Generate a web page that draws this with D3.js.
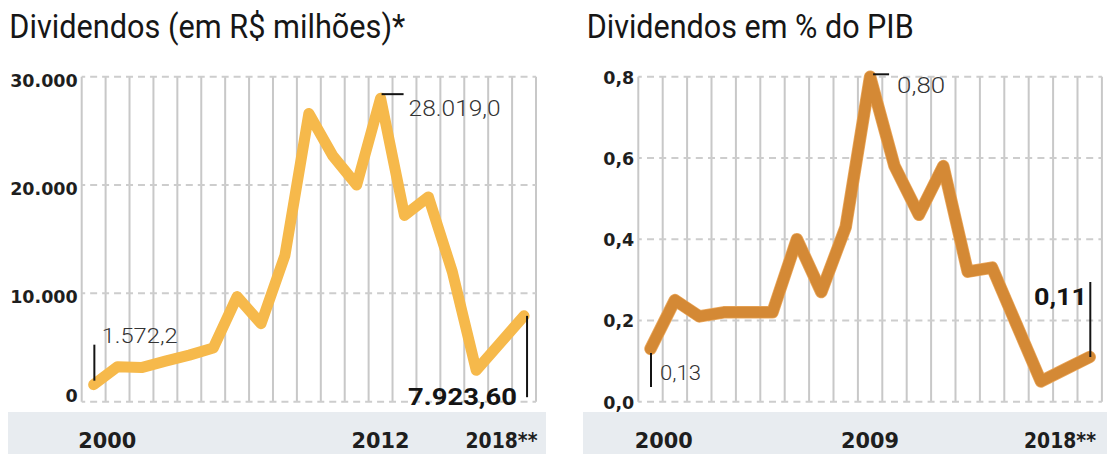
<!DOCTYPE html>
<html><head><meta charset="utf-8">
<script src="https://cdn.jsdelivr.net/npm/d3@7"></script>
<style>body{margin:0;background:#fff} svg{display:block}</style>
</head><body>
<svg id="c" width="1107" height="454"></svg>
<script>
// ---------- data ----------
const years = ["2000","2001","2002","2003","2004","2005","2006","2007","2008","2009",
               "2010","2011","2012","2013","2014","2015","2016","2017","2018"];
const dividendosMilhoes = [1572.2, 3230, 3150, 3750, 4300, 4950, 9700, 7200, 13500, 26600,
                           22700, 20000, 28019.0, 17200, 18900, 12000, 2900, 5400, 7923.6];
const dividendosPib = [0.13, 0.25, 0.21, 0.22, 0.22, 0.22, 0.40, 0.27, 0.43, 0.80,
                       0.58, 0.46, 0.58, 0.32, 0.33, 0.19, 0.05, 0.08, 0.11];
const leftYTicks = [0, 10000, 20000, 30000];
const rightYTicks = [0, 0.2, 0.4, 0.6, 0.8];
const leftXTickYears = ["2000", "2012", "2018"];
const leftXTickLabels = ["2000", "2012", "2018**"];
const rightXTickYears = ["2000", "2009", "2018"];
const rightXTickLabels = ["2000", "2009", "2018**"];
const leftTitle = "Dividendos (em R$ milhões)*";
const rightTitle = "Dividendos em % do PIB";
const leftAnnoYears = ["2000", "2012", "2018"];
const leftAnnoTexts = ["1.572,2", "28.019,0", "7.923,60"];
const rightAnnoYears = ["2000", "2009", "2018"];
const rightAnnoTexts = ["0,13", "0,80", "0,11"];

// ---------- setup ----------
const loc = d3.formatLocale({decimal: ",", thousands: ".", grouping: [3], currency: ["R$", ""]});
const svg = d3.select("#c");
const Y0 = 401.7, Y1 = 76.7;
const tickFont = "'DejaVu Sans', sans-serif";
const lightFont = "Roboto, Lato, sans-serif";

function fitText(sel, w) {
  sel.attr("textLength", w).attr("lengthAdjust", "spacingAndGlyphs");
}

function panel(o) {
  const g = svg.append("g");
  const x = d3.scaleBand().domain(years).range([o.gx0, o.gx1]).padding(0);
  const y = d3.scaleLinear().domain([0, o.ymax]).range([Y0, Y1]);
  const bw = x.bandwidth();
  const cx = yr => x(yr) + bw / 2;

  // bottom band
  g.append("rect").attr("x", o.bandX0).attr("y", 412).attr("width", o.bandX1 - o.bandX0)
    .attr("height", 42).attr("fill", "#e8ecf0");

  // title
  g.append("text").attr("x", o.titleX).attr("y", 38.3).text(o.title)
    .attr("font-family", "Roboto, Lato, sans-serif").attr("font-weight", 400).attr("font-size", 34)
    .attr("fill", "#161616").call(fitText, o.titleW);

  // vertical gridlines at band edges
  const edges = years.map(d => x(d)).concat([o.gx1]);
  g.selectAll(".vg").data(edges).join("line")
    .attr("x1", d => d).attr("x2", d => d).attr("y1", Y1).attr("y2", Y0)
    .attr("stroke", "#c8c8c8").attr("stroke-width", 2);

  // horizontal dashed gridlines
  const period = bw / 2, dash = 7;
  g.selectAll(".hg").data(o.yTicks).join("line")
    .attr("x1", o.gx0).attr("x2", o.gx1).attr("y1", d => y(d)).attr("y2", d => y(d))
    .attr("stroke", "#cdcdcd").attr("stroke-width", 2)
    .attr("stroke-dasharray", `${dash},${period - dash}`)
    .attr("stroke-dashoffset", dash / 2);

  // y tick labels
  g.selectAll(".yl").data(o.yTicks).join("text")
    .attr("x", o.gx0 - 4).attr("y", d => y(d) + o.yLabelOff(d))
    .attr("text-anchor", "end").text(o.yFmt)
    .attr("font-family", tickFont).attr("font-weight", "bold").attr("font-size", 17.5)
    .attr("fill", "#1e1e1e");

  // x tick labels
  g.selectAll(".xl").data(o.xYears).join("text")
    .attr("x", (d, i) => i === 0 ? o.gx0 - 3.5 : (i === o.xYears.length - 1 ? o.xEnd : cx(d)))
    .attr("y", 447.5)
    .attr("text-anchor", (d, i) => i === 0 ? "start" : (i === o.xYears.length - 1 ? "end" : "middle"))
    .text((d, i) => o.xLabels[i])
    .attr("font-family", tickFont).attr("font-weight", "bold").attr("font-size", 22)
    .attr("fill", "#1e1e1e")
    .each(function(d, i) { fitText(d3.select(this), i !== o.xYears.length - 1 ? 58 : 72); });

  // line
  const data = years.map((yr, i) => ({yr, v: o.values[i]}));
  const line = d3.line().x(d => cx(d.yr)).y(d => y(d.v));
  if (o.outline) {
    g.append("path").datum(data).attr("d", line).attr("fill", "none")
      .attr("stroke", o.outline).attr("stroke-width", 12.5)
      .attr("stroke-linejoin", "round").attr("stroke-linecap", "round");
  }
  g.append("path").datum(data).attr("d", line).attr("fill", "none")
    .attr("stroke", o.color).attr("stroke-width", 11)
    .attr("stroke-linejoin", "round").attr("stroke-linecap", "round");

  return {x, y, cx, g, val: yr => o.values[years.indexOf(yr)]};
}

// ---------- left panel ----------
const L = panel({
  gx0: 81.7, gx1: 536, ymax: 30000, yTicks: leftYTicks,
  yFmt: d => loc.format(",")(d),
  yLabelOff: d => d === 0 ? 0 : 10,
  xYears: leftXTickYears, xLabels: leftXTickLabels, xEnd: 537.5,
  values: dividendosMilhoes, color: "#f6b94b",
  title: leftTitle, titleX: 9.3, titleW: 396,
  bandX0: 8, bandX1: 546
});
{
  const g = L.g, ink = "#141414";
  // 2000
  let yr = leftAnnoYears[0], px = L.cx(yr), py = L.y(L.val(yr));
  g.append("line").attr("x1", px + 0.7).attr("x2", px + 0.7).attr("y1", py - 4).attr("y2", py - 40)
    .attr("stroke", ink).attr("stroke-width", 2);
  g.append("text").attr("x", px + 8).attr("y", py - 41.4).text(leftAnnoTexts[0])
    .attr("font-family", lightFont).attr("font-weight", 300).attr("font-size", 21)
    .attr("fill", "#333").call(fitText, 76);
  // 2012
  yr = leftAnnoYears[1]; px = L.cx(yr); py = L.y(L.val(yr));
  g.append("line").attr("x1", px + 1).attr("x2", px + 23).attr("y1", py - 4).attr("y2", py - 4)
    .attr("stroke", ink).attr("stroke-width", 2);
  g.append("text").attr("x", px + 28).attr("y", py + 17.5).text(leftAnnoTexts[1])
    .attr("font-family", lightFont).attr("font-weight", 300).attr("font-size", 21.5)
    .attr("fill", "#333").call(fitText, 92);
  // 2018
  yr = leftAnnoYears[2]; px = L.cx(yr); py = L.y(L.val(yr));
  g.append("line").attr("x1", px + 3).attr("x2", px + 3).attr("y1", py).attr("y2", L.y(0) - 4.5)
    .attr("stroke", ink).attr("stroke-width", 2);
  g.append("text").attr("x", px - 7).attr("y", L.y(0) + 3.3).attr("text-anchor", "end")
    .text(leftAnnoTexts[2])
    .attr("font-family", lightFont).attr("font-weight", "bold").attr("font-size", 24)
    .attr("fill", ink).call(fitText, 109);
}

// ---------- right panel ----------
const R = panel({
  gx0: 638.3, gx1: 1101.9, ymax: 0.8, yTicks: rightYTicks,
  yFmt: d => loc.format(".1f")(d),
  yLabelOff: d => 7,
  xYears: rightXTickYears, xLabels: rightXTickLabels, xEnd: 1096,
  values: dividendosPib, color: "#d48935", outline: "#eaa85e",
  title: rightTitle, titleX: 586.7, titleW: 327,
  bandX0: 583, bandX1: 1107
});
{
  const g = R.g, ink = "#141414";
  // 2000
  let yr = rightAnnoYears[0], px = R.cx(yr), py = R.y(R.val(yr));
  g.append("line").attr("x1", px + 0.5).attr("x2", px + 0.5).attr("y1", py + 4).attr("y2", py + 38)
    .attr("stroke", ink).attr("stroke-width", 2);
  g.append("text").attr("x", px + 9.5).attr("y", py + 31).text(rightAnnoTexts[0])
    .attr("font-family", lightFont).attr("font-weight", 300).attr("font-size", 21)
    .attr("fill", "#333").call(fitText, 41);
  // 2009
  yr = rightAnnoYears[1]; px = R.cx(yr); py = R.y(R.val(yr));
  g.append("line").attr("x1", px + 3).attr("x2", px + 19).attr("y1", py - 2.4).attr("y2", py - 2.4)
    .attr("stroke", ink).attr("stroke-width", 2);
  g.append("text").attr("x", px + 27).attr("y", py + 16.6).text(rightAnnoTexts[1])
    .attr("font-family", lightFont).attr("font-weight", 300).attr("font-size", 21.5)
    .attr("fill", "#333").call(fitText, 48);
  // 2018
  yr = rightAnnoYears[2]; px = R.cx(yr); py = R.y(R.val(yr));
  g.append("line").attr("x1", px + 0.6).attr("x2", px + 0.6).attr("y1", py).attr("y2", py - 75)
    .attr("stroke", ink).attr("stroke-width", 2);
  g.append("text").attr("x", px - 2.7).attr("y", py - 52).attr("text-anchor", "end")
    .text(rightAnnoTexts[2])
    .attr("font-family", lightFont).attr("font-weight", "bold").attr("font-size", 24)
    .attr("fill", ink).call(fitText, 53);
}
</script>
</body></html>
